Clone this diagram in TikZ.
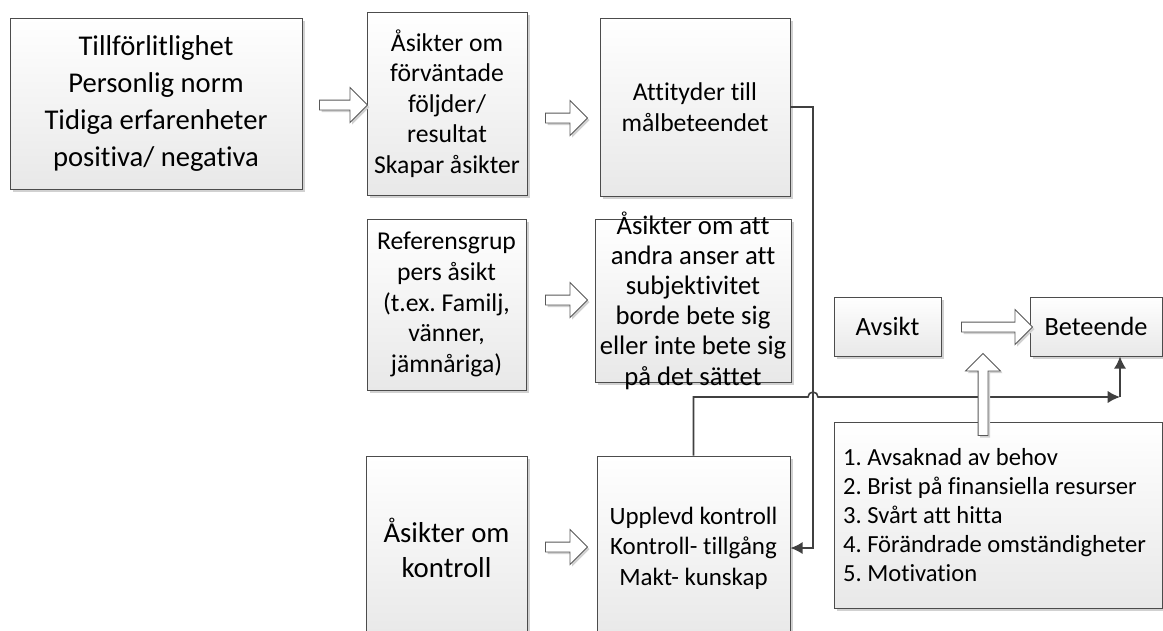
\documentclass[tikz,border=0pt]{standalone}
\usepackage{fontspec}
\setmainfont{Carlito}[Ligatures=NoCommon]
\frenchspacing
\usetikzlibrary{positioning, arrows.meta, calc, shapes.arrows, shadows}

\begin{document}
\begin{tikzpicture}[x=0.02cm, y=-0.02cm,
  box/.style={draw=black!70, line width=0.5pt, top color=white, bottom color=black!9,
    drop shadow={shadow xshift=1.6pt, shadow yshift=-1.6pt, fill=black!18, opacity=1},
    align=center, inner sep=2pt},
  bigtxt/.style={font=\fontsize{16.3}{20.9}\selectfont},
  midtxt/.style={font=\fontsize{14.6}{17.4}\selectfont},
  smalltxt/.style={font=\fontsize{14}{16.4}\selectfont},
  hollow/.style={single arrow, draw=black!65, line width=0.5pt, fill=white, inner sep=2.56pt,
    single arrow head extend=0.25cm, minimum height=#1,
    drop shadow={shadow xshift=1.2pt, shadow yshift=-1.2pt, fill=black!18, opacity=1}},
  conn/.style={draw=black!75, line width=0.9pt, -{Latex[length=7pt,width=7pt]}}
]
\useasboundingbox (0,0) rectangle (1163,630);
\clip (0,0) rectangle (1163,630);

% first row
\node[box, bigtxt, minimum width=5.84cm, minimum height=3.42cm] (pre) at (156,103.5)
  {Tillförlitlighet\\Personlig norm\\Tidiga erfarenheter\\positiva/ negativa};
\node[box, midtxt, minimum width=3.2cm, minimum height=3.66cm] (belief) at (447,103.5)
  {Åsikter om\\förväntade\\följder/\\resultat\\Skapar åsikter};
\node[box, midtxt, minimum width=3.8cm, minimum height=3.56cm] (attitude) at (695,107)
  {Attityder till\\målbeteendet};

% second row
\node[box, midtxt, minimum width=3.18cm, minimum height=3.42cm] (refgroup) at (446.5,304.5)
  {Referensgrup\\pers åsikt\\(t.ex. Familj,\\vänner,\\jämnåriga)};
\node[box, minimum width=3.92cm, minimum height=3.26cm] (norm) at (693,300.5) {};
\node[font=\fontsize{15.2}{17.2}\selectfont, align=center] (normtext) at (norm.center)
  {Åsikter om att\\andra anser att\\subjektivitet\\borde bete sig\\eller inte bete sig\\på det sättet};
\node[box, font=\fontsize{15}{18}\selectfont, minimum width=2.14cm, minimum height=1.18cm] (intent) at (887.5,326.5) {Avsikt};
\node[box, font=\fontsize{15}{18}\selectfont, minimum width=2.64cm, minimum height=1.18cm] (behav) at (1096,326.5) {Beteende};

% third row
\node[box, font=\fontsize{16.4}{19.5}\selectfont, minimum width=3.22cm, minimum height=3.68cm] (ctrlbelief) at (446.5,548)
  {Åsikter om\\kontroll};
\node[box, font=\fontsize{14.2}{17.4}\selectfont, minimum width=3.86cm, minimum height=3.68cm] (control) at (693.5,548)
  {Upplevd kontroll\\Kontroll- tillgång\\Makt- kunskap};
\node[box, smalltxt, align=flush left, inner xsep=0.18cm, text width=6.2cm, minimum height=3.72cm] (barriers) at (998,515)
  {1. Avsaknad av behov\\2. Brist på finansiella resurser\\3. Svårt att hitta\\4. Förändrade omständigheter\\5. Motivation};

% connectors
\coordinate (cross) at (813,397);
\coordinate (turn) at (1120,397);
\draw[conn] (attitude.east) -- (attitude.east -| cross) |- (control.east);
\draw[conn] (control.north) |- ($(cross)+(-5,0)$) arc[start angle=180, end angle=0, radius=0.1cm] -- (turn);
\draw[conn] (turn) -- (turn |- behav.south);

% block arrows
\node[hollow=0.96cm] (ar1) at (341,105) {};
\node[hollow=0.84cm] (ar2) at (564,118) {};
\node[hollow=0.84cm] (ar3) at (564,300) {};
\node[hollow=0.84cm] (ar4) at (564,547) {};
\node[hollow=1.42cm] (ar5) at (994.5,327) {};
\node[hollow=1.64cm, shape border rotate=90] (ar6) at (983,397) {};
\end{tikzpicture}
\end{document}
